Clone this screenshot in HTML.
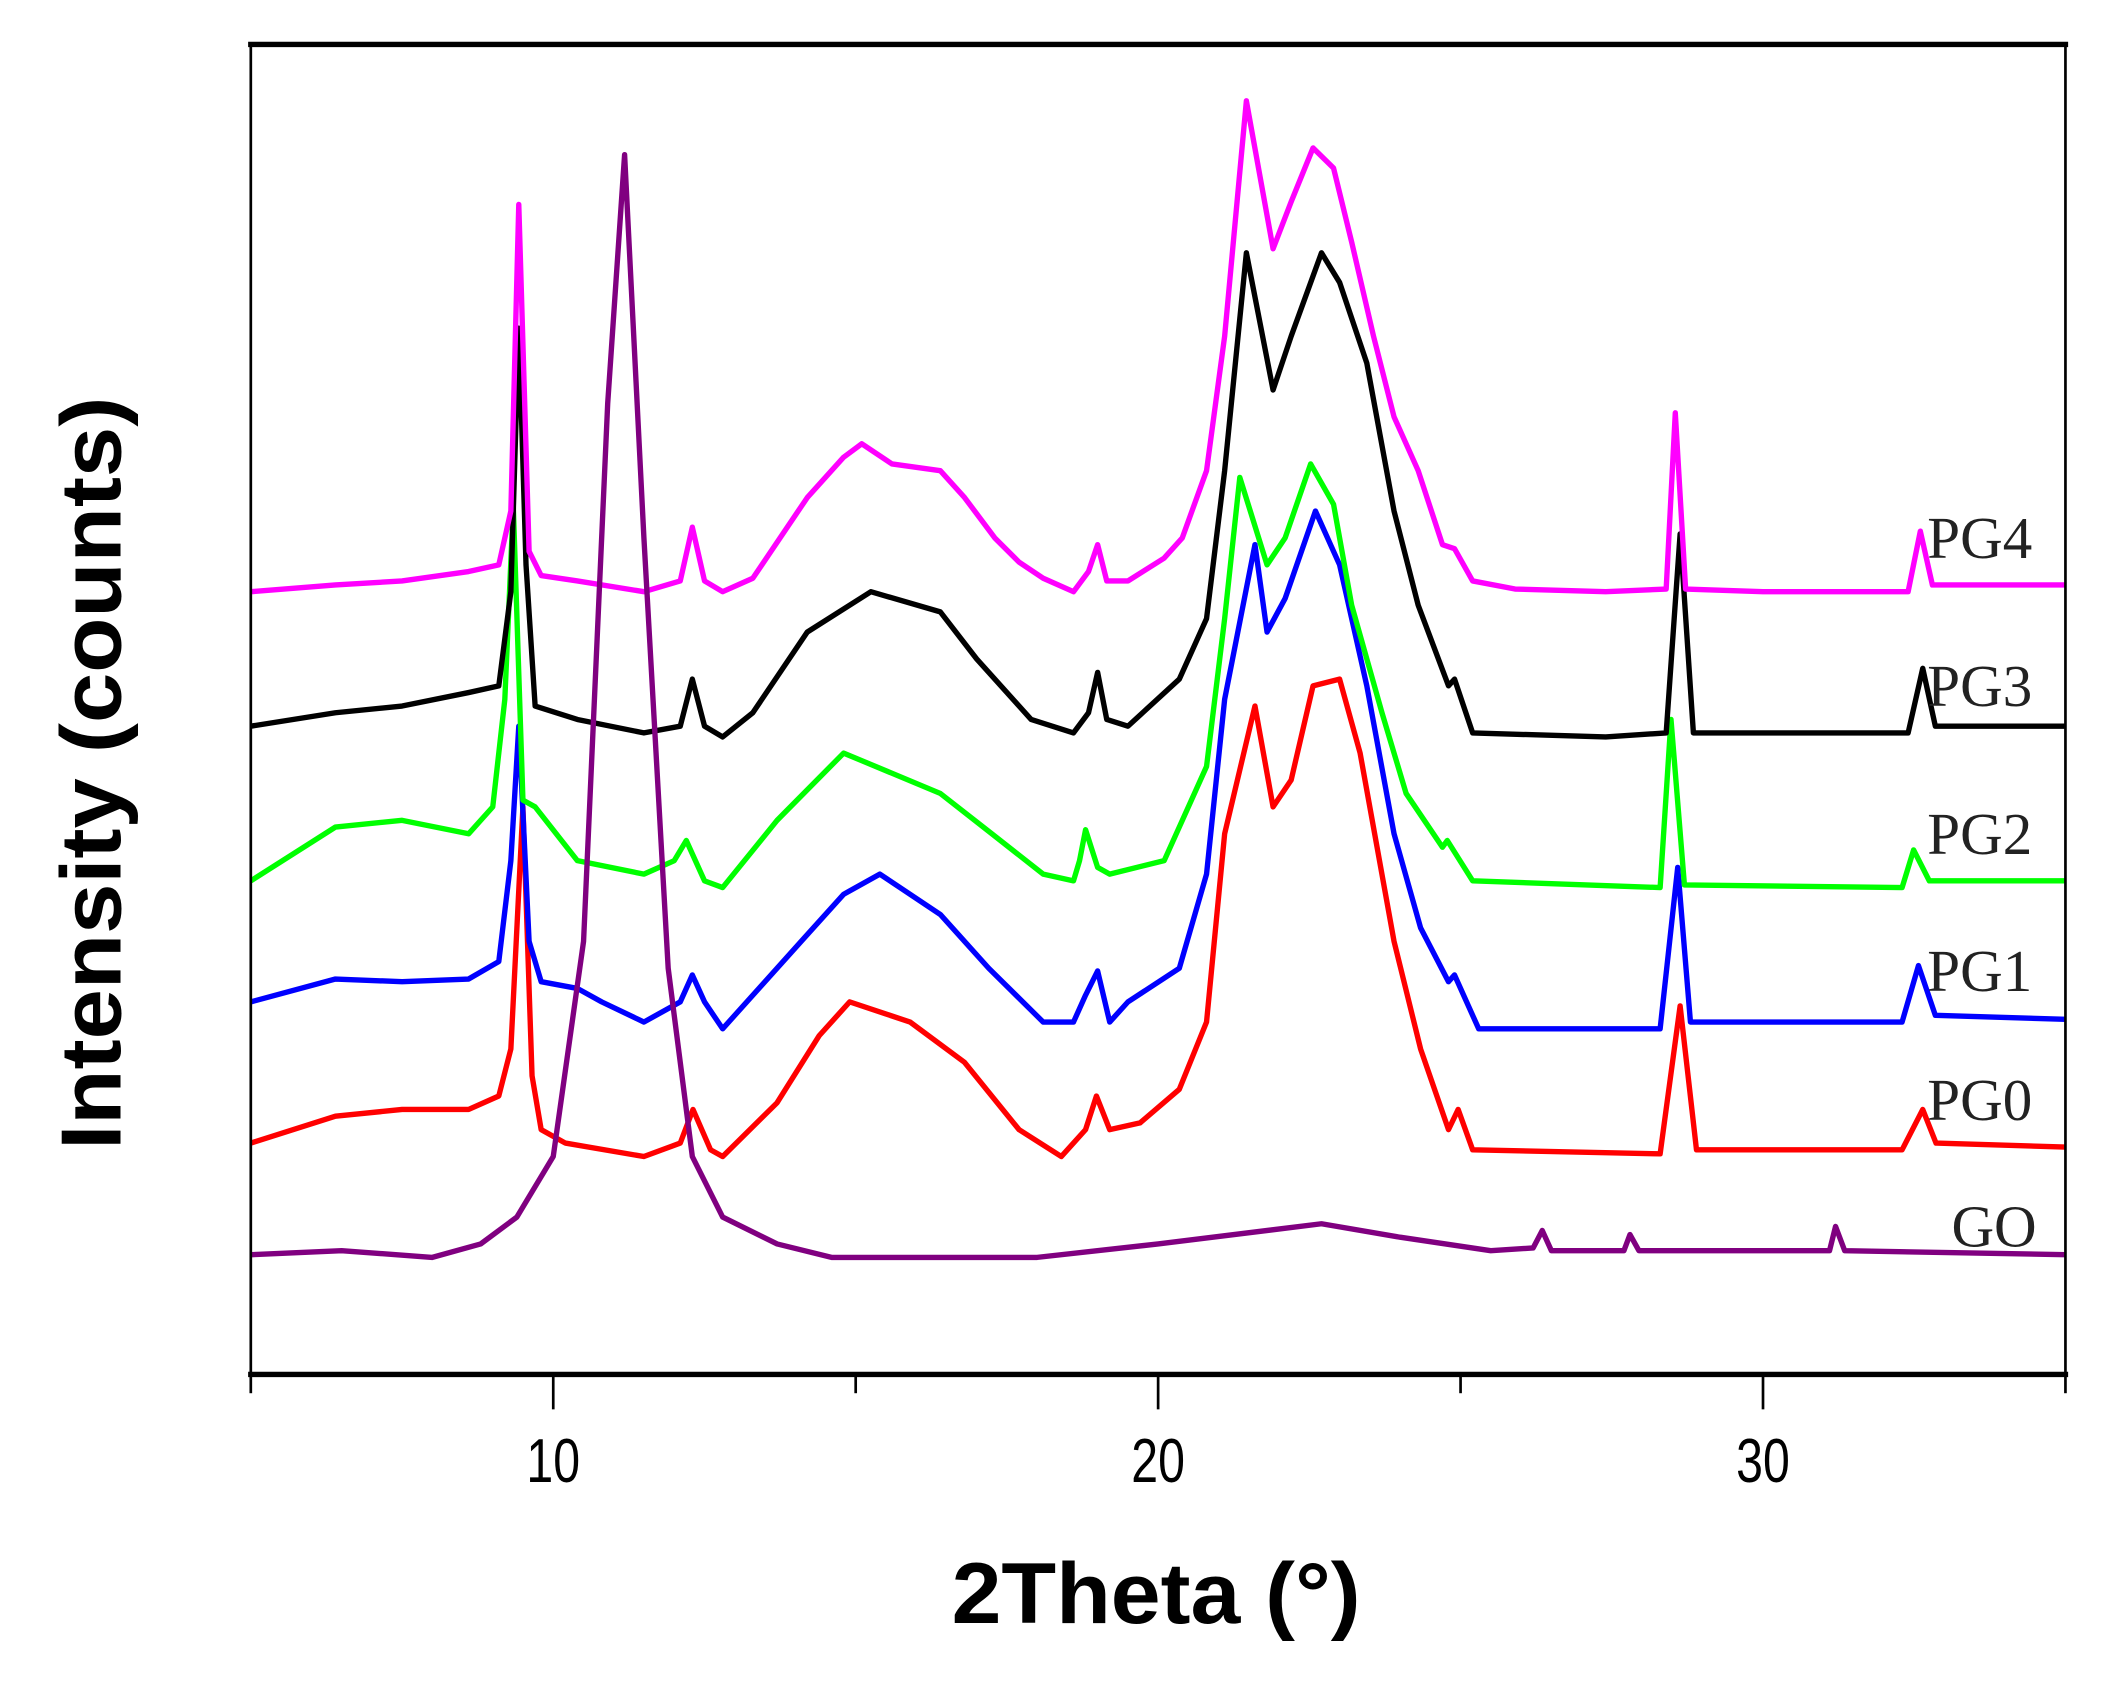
<!DOCTYPE html>
<html><head><meta charset="utf-8"><style>
html,body{margin:0;padding:0;background:#fff;}
svg{display:block;}
</style></head><body>
<svg id="chart" width="2103" height="1681" viewBox="0 0 1568 1250" preserveAspectRatio="none" xmlns="http://www.w3.org/2000/svg">
<rect x="0" y="0" width="1568" height="1250" fill="#fff"/>
<g id="plot"></g>
<g id="axes"></g>
<text x="0" y="0" transform="translate(90,575) rotate(-90)" text-anchor="middle" font-family="Liberation Sans, sans-serif" font-weight="bold" font-size="64" textLength="560" lengthAdjust="spacingAndGlyphs">Intensity (counts)</text>
<text x="862" y="1207" text-anchor="middle" font-family="Liberation Sans, sans-serif" font-weight="bold" font-size="64" textLength="305" lengthAdjust="spacingAndGlyphs">2Theta (°)</text>
</svg>
<script>
const xTicks=[10,20,30];
const xMinor=[5,15,25,35];
const seriesNames=["PG0","PG1","PG2","PG3","PG4","GO"];
const seriesColors=["#ff0000","#0000ff","#00ff00","#000000","#ff00ff","#800080"];
const pg0X=[5.0,6.4,7.5,8.6,9.1,9.3,9.5,9.65,9.8,10.2,11.5,12.1,12.31,12.6,12.8,13.7,14.4,14.9,15.9,16.8,17.7,18.4,18.8,18.98,19.2,19.7,20.35,20.8,21.1,21.6,21.9,22.2,22.56,23.0,23.34,23.9,24.34,24.8,24.96,25.2,28.3,28.63,28.9,32.3,32.64,32.86,35];
const pg0Y=[172,192,197,197,207,242,422,222,182,172,162,172,197,167,162,202,252,277,262,232,182,162,182,207,182,187,212,262,402,497,422,442,512,517,462,322,242,182,197,167,164,274,167,167,197,172,169];
const pg1X=[5.0,6.4,7.5,8.6,9.1,9.3,9.43,9.6,9.8,10.4,10.8,11.5,12.1,12.3,12.5,12.8,14.1,14.8,15.4,16.4,17.2,18.1,18.6,18.8,19.0,19.2,19.5,20.35,20.8,21.1,21.6,21.8,22.1,22.6,23.0,23.45,23.9,24.34,24.8,24.9,25.3,28.3,28.59,28.8,32.3,32.57,32.85,35];
const pg1Y=[277,294,292,294,307,382,482,322,292,287,277,262,277,297,277,257,322,357,372,342,302,262,262,282,300,262,277,302,372,502,617,552,577,642,602,512,402,332,292,297,257,257,377,262,262,304,267,264];
const pg2X=[5.0,6.4,7.5,8.6,9.0,9.2,9.34,9.5,9.7,10.4,11.5,12.0,12.2,12.5,12.8,13.7,14.8,16.4,17.25,18.1,18.6,18.7,18.8,19.0,19.2,20.1,20.8,21.1,21.35,21.8,22.1,22.52,22.9,23.2,23.7,24.1,24.7,24.78,25.2,28.3,28.48,28.7,32.3,32.49,32.75,35];
const pg2Y=[367,407,412,402,422,502,646,427,422,382,372,382,397,367,362,412,462,432,402,372,367,382,405,377,372,382,452,562,667,602,622,677,647,572,492,432,392,397,367,362,487,364,362,390,367,367];
const pg3X=[5.0,6.4,7.5,8.6,9.1,9.3,9.43,9.55,9.7,10.4,11.5,12.1,12.3,12.5,12.8,13.3,14.2,15.25,16.4,17.0,17.9,18.6,18.85,19.0,19.15,19.5,20.35,20.8,21.1,21.46,21.9,22.2,22.7,23.0,23.45,23.9,24.3,24.8,24.9,25.2,27.4,28.4,28.63,28.85,32.4,32.64,32.85,35];
const pg3Y=[482,492,497,507,512,582,778,602,497,487,477,482,517,482,474,492,552,582,567,532,487,477,492,522,487,482,517,562,672,834,732,772,834,812,752,642,572,512,517,477,474,477,625,477,477,525,482,482];
const pg4X=[5.0,6.4,7.5,8.6,9.1,9.3,9.43,9.6,9.8,10.4,11.5,12.1,12.3,12.5,12.8,13.3,14.2,14.8,15.1,15.6,16.4,16.8,17.3,17.7,18.1,18.6,18.85,19.0,19.15,19.5,20.1,20.4,20.8,21.1,21.46,21.9,22.2,22.56,22.9,23.2,23.56,23.9,24.3,24.7,24.9,25.2,25.9,27.4,28.4,28.55,28.72,30,32.4,32.6,32.8,35];
const pg4Y=[582,587,590,597,602,642,870,612,594,590,582,590,630,590,582,592,652,682,692,677,672,652,622,604,592,582,597,617,590,590,607,622,672,772,947,837,872,912,897,842,772,712,672,617,614,590,584,582,584,715,584,582,582,627,587,587];
const goX=[5.0,6.5,8.0,8.8,9.4,10.0,10.5,10.9,11.18,11.5,11.9,12.3,12.8,13.7,14.6,18.0,20.0,22.7,24.0,25.5,26.2,26.35,26.5,27.7,27.8,27.95,31.1,31.2,31.35,35];
const goY=[89,92,87,97,117,162,322,722,907,622,302,162,117,97,87,87,97,112,102,92,94,107,92,92,104,92,92,110,92,89];
const labelY=[818,722,620,510,400,912];
const labelX=[1437,1437,1437,1437,1437,1455];

const X0=5,X1=35,PX0=187,PX1=1540;
function xs(v){return PX0+(v-X0)*(PX1-PX0)/(X1-X0);}
function ys(v){return 1022-v;}
const NS="http://www.w3.org/2000/svg";
const plot=document.getElementById('plot');
const axes=document.getElementById('axes');
const allX=[pg0X,pg1X,pg2X,pg3X,pg4X,goX];
const allY=[pg0Y,pg1Y,pg2Y,pg3Y,pg4Y,goY];
[0,1,2,3,4,5].forEach(function(i){
  const p=document.createElementNS(NS,'path');
  let d='';
  allX[i].forEach(function(x,j){d+=(j?'L':'M')+xs(x).toFixed(1)+' '+ys(allY[i][j]).toFixed(1);});
  p.setAttribute('d',d);
  p.setAttribute('fill','none');
  p.setAttribute('stroke',seriesColors[i]);
  p.setAttribute('stroke-width','4');
  p.setAttribute('stroke-linejoin','round');
  
  
  plot.appendChild(p);
  const t=document.createElementNS(NS,'text');
  t.setAttribute('x',labelX[i]);
  t.setAttribute('y',labelY[i]+15);
  t.setAttribute('font-family','Liberation Serif, serif');
  t.setAttribute('font-size','44');
  t.setAttribute('fill','#222');
  t.textContent=seriesNames[i];
  
  
  plot.appendChild(t);
});
function line(x1,y1,x2,y2,w,name){
  const l=document.createElementNS(NS,'line');
  l.setAttribute('x1',x1);l.setAttribute('y1',y1);l.setAttribute('x2',x2);l.setAttribute('y2',y2);
  l.setAttribute('stroke','#000');l.setAttribute('stroke-width',w);
  
  
  axes.appendChild(l);
}
line(185,33,1542,33,4,'top-frame');
line(187,33,187,1022,2,'y-axis-line');
line(1540,33,1540,1022,2,'right-frame');
line(185,1022,1542,1022,4,'x-axis-line');
xTicks.forEach(function(v){
  line(xs(v),1022,xs(v),1048,2,'x-tick-major');
  const t=document.createElementNS(NS,'text');
  t.setAttribute('x',xs(v));t.setAttribute('y',1102);
  t.setAttribute('text-anchor','middle');
  t.setAttribute('font-family','Liberation Sans, sans-serif');
  t.setAttribute('font-size','46');
  t.setAttribute('textLength','40');
  t.setAttribute('lengthAdjust','spacingAndGlyphs');
  t.textContent=v;
  
  
  axes.appendChild(t);
});
xMinor.forEach(function(v){line(xs(v),1022,xs(v),1036,2,'x-tick-minor');});
</script>
</body></html>
